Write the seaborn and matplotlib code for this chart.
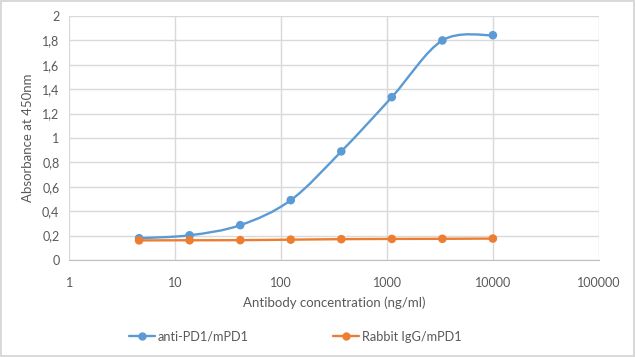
import matplotlib
matplotlib.use("Agg")
import matplotlib.pyplot as plt
import numpy as np
import pandas as pd
import seaborn as sns
from matplotlib.path import Path
from matplotlib.patches import PathPatch
from matplotlib.lines import Line2D

# data (3-fold dilution series)
conc = [4.57, 13.7, 41.2, 123.5, 370.4, 1111.1, 3333.3, 10000]
anti_pd1 = [0.178, 0.202, 0.285, 0.49, 0.89, 1.335, 1.80, 1.843]
rabbit_igg = [0.160, 0.161, 0.162, 0.166, 0.170, 0.172, 0.173, 0.175]
series_names = ["anti-PD1/mPD1", "Rabbit IgG/mPD1"]
series_colors = ["#5B9BD5", "#ED7D31"]

x_ticks = [1, 10, 100, 1000, 10000, 100000]
x_tick_labels = ["1", "10", "100", "1000", "10000", "100000"]
y_ticks = [0, 0.2, 0.4, 0.6, 0.8, 1.0, 1.2, 1.4, 1.6, 1.8, 2.0]
y_tick_labels = ["0", "0,2", "0,4", "0,6", "0,8", "1", "1,2", "1,4", "1,6", "1,8", "2"]

df = pd.DataFrame({
    "conc": conc * 2,
    "abs": anti_pd1 + rabbit_igg,
    "series": [series_names[0]] * len(conc) + [series_names[1]] * len(conc),
})

sns.set_style("white")
plt.rcParams["font.family"] = ["Lato", "DejaVu Sans"]
text_col = "#595959"


def smooth_path(xs, ys):
    # excel-like smoothed line: catmull-rom bezier in (log x, y) space
    pts = np.column_stack([np.log10(xs), np.asarray(ys, dtype=float)])
    n = len(pts)
    verts = [pts[0]]
    codes = [Path.MOVETO]
    for i in range(n - 1):
        p0 = pts[max(i - 1, 0)]
        p1 = pts[i]
        p2 = pts[i + 1]
        p3 = pts[min(i + 2, n - 1)]
        verts += [p1 + (p2 - p0) / 6, p2 - (p3 - p1) / 6, p2]
        codes += [Path.CURVE4] * 3
    verts = np.array(verts)
    verts[:, 0] = 10 ** verts[:, 0]
    return Path(verts, codes)


fig = plt.figure(figsize=(6.35, 3.57), dpi=100)
fig.patch.set_edgecolor("#d9d9d9")
fig.patch.set_linewidth(1.5)
ax = fig.add_axes([0.109, 0.272, 0.834, 0.683])

for name, col in zip(series_names, series_colors):
    sub = df[df["series"] == name]
    ax.add_patch(PathPatch(smooth_path(sub["conc"].values, sub["abs"].values),
                           facecolor="none", edgecolor=col, lw=1.7, zorder=3))

sns.scatterplot(data=df, x="conc", y="abs", hue="series", palette=series_colors,
                s=38, edgecolor="none", legend=False, ax=ax, zorder=4)

ax.set_xscale("log")
ax.set_xlim(1, 100000)
ax.set_ylim(0, 2)
ax.set_xticks(x_ticks)
ax.set_xticklabels(x_tick_labels)
ax.set_yticks(y_ticks)
ax.set_yticklabels(y_tick_labels)
ax.grid(True, which="major", color="#d9d9d9", lw=1)
ax.set_axisbelow(True)
for s in ["top", "right", "left"]:
    ax.spines[s].set_visible(False)
ax.spines["bottom"].set_color("#bfbfbf")
ax.tick_params(axis="both", which="major", length=0, labelsize=9, colors=text_col)
ax.tick_params(axis="x", which="major", pad=12)
ax.tick_params(axis="y", which="major", pad=7)
ax.tick_params(axis="x", which="minor", direction="in", length=3, color="#bfbfbf", width=0.8)
ax.tick_params(axis="y", which="minor", length=0)

ax.set_xlabel("Antibody concentration (ng/ml)", fontsize=9.5, color=text_col, labelpad=6)
ax.set_ylabel("Absorbance at 450nm", fontsize=9.5, color=text_col, labelpad=6)

handles = [Line2D([], [], color=c, lw=1.7, marker="o", markersize=5) for c in series_colors]
fig.legend(handles, series_names, loc="center", bbox_to_anchor=(0.465, 0.057), ncol=2,
           frameon=False, fontsize=9.2, handlelength=2.0, columnspacing=6.6,
           labelcolor=text_col, handletextpad=0.25)

fig.savefig("out.png", dpi=100, edgecolor=fig.get_edgecolor())
